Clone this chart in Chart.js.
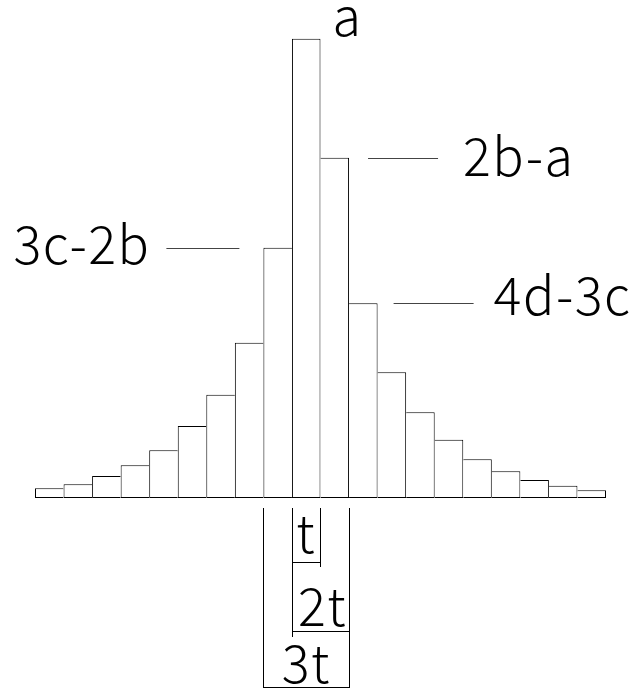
<!DOCTYPE html>
<html>
<head>
<meta charset="utf-8">
<script src="https://cdn.jsdelivr.net/npm/chart.js@4"></script>
<style>
  html, body { margin: 0; padding: 0; background: #fff; }
  canvas { display: block; }
</style>
</head>
<body>
<canvas id="histChart" width="633" height="689"></canvas>
<script>
  /* ── data ── */
  const bins = ['1', '2', '3', '4', '5', '6', '7', '8', '9', '10',
                '11', '12', '13', '14', '15', '16', '17', '18', '19', '20'];
  const counts = [9.7, 13.7, 22, 32.7, 47.7, 72, 103.3, 155.3, 250.3, 459.3,
                  340.3, 194.7, 125.7, 85.7, 58.3, 38.7, 26.7, 18, 12.3, 7.7];
  const peakLabel = 'a';
  const sideLabels = ['3c-2b', '2b-a', '4d-3c'];   // bars 9, 11, 12
  const widthLabels = ['t', '2t', '3t'];

  const peak = counts.indexOf(Math.max(...counts));
  const FONT = '300 52px "Noto Sans CJK JP", "Noto Sans", sans-serif';

  /* ── annotations: leader lines, letters and the width brackets ── */
  const annotate = {
    id: 'annotate',
    afterDatasetsDraw(chart) {
      const ctx = chart.ctx;
      const bars = chart.getDatasetMeta(0).data;
      const left = i => bars[i].x - bars[i].width / 2;
      const right = i => bars[i].x + bars[i].width / 2;
      const top = i => bars[i].y;
      const base = bars[0].base;

      ctx.save();
      ctx.font = FONT;
      ctx.letterSpacing = '1.5px';
      ctx.fillStyle = '#000';
      ctx.textBaseline = 'alphabetic';

      // peak letter
      ctx.textAlign = 'left';
      ctx.fillText(peakLabel, right(peak) + 12, top(peak) - 3);

      // leader lines
      ctx.strokeStyle = '#444';
      ctx.lineWidth = 1;
      const hline = (x1, x2, y) => {
        ctx.beginPath();
        ctx.moveTo(x1, Math.round(y) + 0.5);
        ctx.lineTo(x2, Math.round(y) + 0.5);
        ctx.stroke();
      };

      // left of peak
      const l = peak - 1;
      hline(left(l) - 97, left(l) - 24, top(l));
      ctx.textAlign = 'right';
      ctx.fillText(sideLabels[0], left(l) - 113, top(l) + 16);

      // right of peak
      const r1 = peak + 1, r2 = peak + 2;
      hline(right(r1) + 19, right(r1) + 89, top(r1));
      ctx.textAlign = 'left';
      ctx.fillText(sideLabels[1], right(r1) + 114, top(r1) + 18);

      hline(right(r2) + 16, right(r2) + 96, top(r2));
      ctx.fillText(sideLabels[2], right(r2) + 116, top(r2) + 12);

      // width brackets below the base
      ctx.strokeStyle = '#000';
      const vline = (x, y1, y2) => {
        ctx.beginPath();
        ctx.moveTo(Math.round(x) + 0.5, y1);
        ctx.lineTo(Math.round(x) + 0.5, y2);
        ctx.stroke();
      };
      const y0 = base + 10;
      const xa = left(peak - 1), xb = left(peak), xc = right(peak), xd = right(peak + 1);
      vline(xa, y0, base + 190);
      vline(xb, y0, base + 139);
      vline(xc, y0, base + 69);
      vline(xd, y0, base + 190);
      const hl = (x1, x2, y) => {
        ctx.beginPath();
        ctx.moveTo(Math.round(x1), y + 0.5);
        ctx.lineTo(Math.round(x2) + 1, y + 0.5);
        ctx.stroke();
      };
      hl(xb, xc, base + 64);
      hl(xb, xd, base + 133);
      hl(xa, xd, base + 189);

      ctx.textAlign = 'center';
      ctx.fillText(widthLabels[0], (xb + xc) / 2, base + 55);
      ctx.textAlign = 'left';
      ctx.fillText(widthLabels[1], xb + 6, base + 128);
      ctx.textAlign = 'center';
      ctx.fillText(widthLabels[2], (xa + xd) / 2, base + 185);
      ctx.restore();
    }
  };

  /* ── Histogram ── */
  const histCtx = document.getElementById('histChart').getContext('2d');
  new Chart(histCtx, {
    type: 'bar',
    data: {
      labels: bins,
      datasets: [{
        data: counts,
        backgroundColor: '#ffffff',
        borderColor: '#000000',
        borderWidth: 1,
        // shared edges drawn once: the taller neighbour owns the edge
        borderSkipped: c => c.dataIndex < peak ? 'right' : (c.dataIndex > peak ? 'left' : false),
        barPercentage: 1,
        categoryPercentage: 1,
        inflateAmount: 0
      }]
    },
    options: {
      responsive: false,
      animation: false,
      devicePixelRatio: 1,
      layout: { padding: { left: 35, right: 27, top: 0, bottom: 191 } },
      plugins: {
        legend: { display: false },
        tooltip: { enabled: false }
      },
      scales: {
        x: { display: false },
        y: { display: false, min: 0, max: 498 }
      }
    },
    plugins: [annotate]
  });
</script>
</body>
</html>
